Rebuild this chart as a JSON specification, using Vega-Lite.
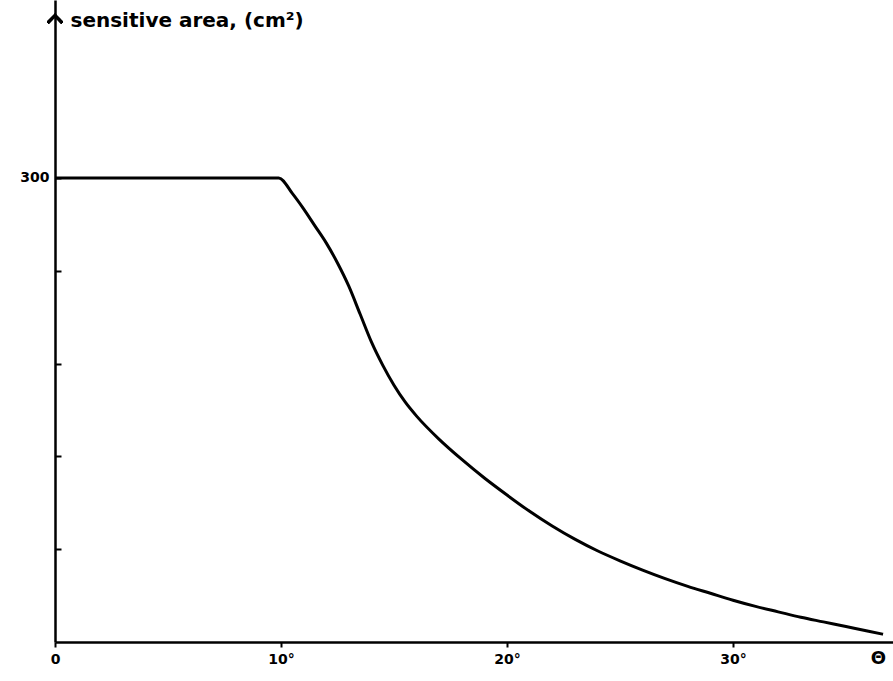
{
  "$schema": "https://vega.github.io/schema/vega-lite/v6.json",
  "width": 838,
  "height": 642,
  "autosize": {"type": "none"},
  "padding": {"left": 55, "top": 0, "right": 0, "bottom": 39},
  "background": "white",
  "config": {"view": {"stroke": null}, "font": "DejaVu Sans"},
  "data": {"values": [
    {"theta": 0, "area": 300},
    {"theta": 9.9, "area": 300},
    {"theta": 10.5, "area": 290},
    {"theta": 11, "area": 280},
    {"theta": 11.5, "area": 269},
    {"theta": 12, "area": 258},
    {"theta": 12.5, "area": 245},
    {"theta": 13, "area": 230},
    {"theta": 13.5, "area": 212},
    {"theta": 14, "area": 194},
    {"theta": 14.5, "area": 179},
    {"theta": 15, "area": 166},
    {"theta": 15.5, "area": 155},
    {"theta": 16, "area": 146},
    {"theta": 17, "area": 131},
    {"theta": 18, "area": 118},
    {"theta": 19, "area": 106},
    {"theta": 20, "area": 95},
    {"theta": 21, "area": 84.5},
    {"theta": 22, "area": 75},
    {"theta": 23, "area": 66.5},
    {"theta": 24, "area": 59},
    {"theta": 25, "area": 52.5},
    {"theta": 26, "area": 46.5},
    {"theta": 27, "area": 41},
    {"theta": 28, "area": 36},
    {"theta": 29, "area": 31.5},
    {"theta": 30, "area": 27},
    {"theta": 31, "area": 23},
    {"theta": 32, "area": 19.5},
    {"theta": 33, "area": 16},
    {"theta": 34, "area": 13},
    {"theta": 35, "area": 10},
    {"theta": 36, "area": 7},
    {"theta": 36.64, "area": 5}
  ]},
  "layer": [
    {
      "mark": {"type": "line", "color": "black", "strokeWidth": 3, "strokeJoin": "round", "interpolate": "monotone"},
      "encoding": {
        "x": {
          "field": "theta", "type": "quantitative",
          "scale": {"domain": [0, 37.08], "nice": false, "zero": false},
          "axis": {
            "values": [0, 10, 20, 30],
            "labelExpr": "datum.value == 0 ? '0' : datum.value + '°'",
            "grid": false, "domainColor": "black", "domainWidth": 2.5,
            "tickColor": "black", "tickWidth": 2, "tickSize": 5, "tickOffset": 0,
            "labelFont": "DejaVu Sans", "labelFontSize": 14, "labelFontWeight": "bold",
            "labelColor": "black", "labelPadding": 5, "labelFlush": false,
            "title": "Θ", "titleFontSize": 18, "titleFontWeight": "bold",
            "titleX": 823, "titleY": 16, "titleAlign": "center", "titleBaseline": "middle",
            "titleColor": "black"
          }
        },
        "y": {
          "field": "area", "type": "quantitative",
          "scale": {"domain": [0, 415], "nice": false},
          "axis": {
            "values": [60, 120, 180, 240, 300],
            "labelExpr": "datum.value == 300 ? '300' : ''",
            "grid": false, "domainColor": "black", "domainWidth": 2.5,
            "tickColor": "black", "tickWidth": 2, "tickSize": -6,
            "labelFont": "DejaVu Sans", "labelFontSize": 14, "labelFontWeight": "bold",
            "labelColor": "black", "labelPadding": 12,
            "title": "sensitive area, (cm²)", "titleAngle": 0, "titleFontSize": 20,
            "titleFontWeight": "bold", "titleFont": "DejaVu Sans", "titleColor": "black",
            "titleX": 15, "titleY": 20, "titleAlign": "left", "titleBaseline": "middle"
          }
        }
      }
    },
    {
      "mark": {"type": "point", "shape": "M-1,1L0,0L1,1", "size": 200, "filled": false, "stroke": "black", "strokeWidth": 2.5},
      "encoding": {
        "x": {"datum": 0, "type": "quantitative"},
        "y": {"datum": 405, "type": "quantitative"}
      }
    }
  ]
}
